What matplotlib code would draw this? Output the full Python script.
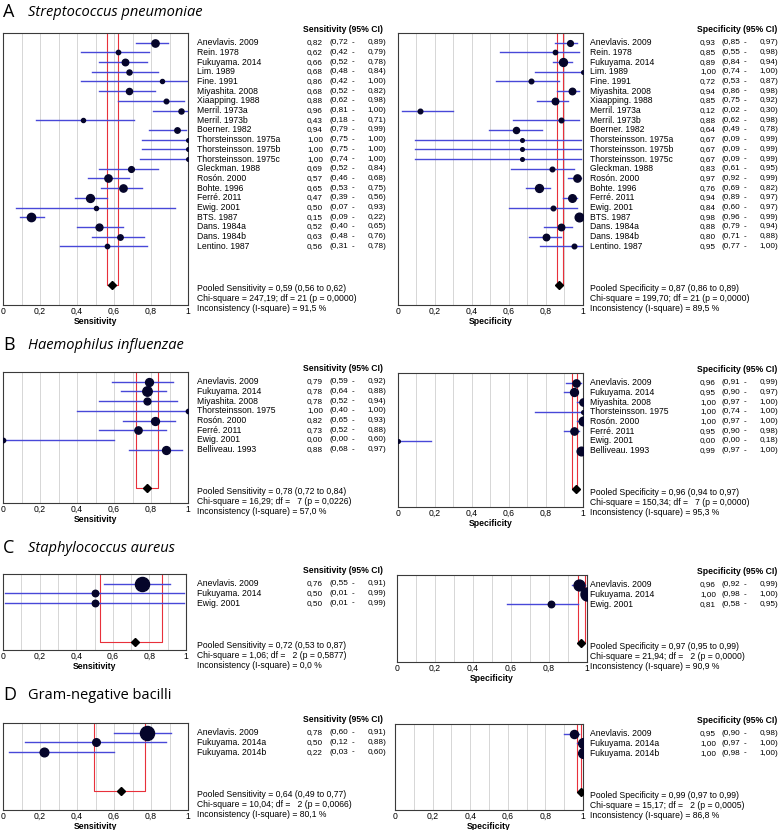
import matplotlib
matplotlib.use("Agg")
import matplotlib.pyplot as plt
import matplotlib.transforms as mtransforms

# ---- data -------------------------------------------------------------
a_names = ["Anevlavis. 2009", "Rein. 1978", "Fukuyama. 2014", "Lim. 1989", "Fine. 1991",
           "Miyashita. 2008", "Xiaapping. 1988", "Merril. 1973a", "Merril. 1973b", "Boerner. 1982",
           "Thorsteinsson. 1975a", "Thorsteinsson. 1975b", "Thorsteinsson. 1975c", "Gleckman. 1988",
           "Rosón. 2000", "Bohte. 1996", "Ferré. 2011", "Ewig. 2001", "BTS. 1987", "Dans. 1984a",
           "Dans. 1984b", "Lentino. 1987"]
a_sens = [0.82, 0.62, 0.66, 0.68, 0.86, 0.68, 0.88, 0.96, 0.43, 0.94, 1.00, 1.00, 1.00, 0.69,
          0.57, 0.65, 0.47, 0.50, 0.15, 0.52, 0.63, 0.56]
a_sens_lo = [0.72, 0.42, 0.52, 0.48, 0.42, 0.52, 0.62, 0.81, 0.18, 0.79, 0.75, 0.75, 0.74, 0.52,
             0.46, 0.53, 0.39, 0.07, 0.09, 0.40, 0.48, 0.31]
a_sens_hi = [0.89, 0.79, 0.78, 0.84, 1.00, 0.82, 0.98, 1.00, 0.71, 0.99, 1.00, 1.00, 1.00, 0.84,
             0.68, 0.75, 0.56, 0.93, 0.22, 0.65, 0.76, 0.78]
a_sens_w = [45, 16, 36, 22, 14, 32, 18, 22, 14, 25, 11, 11, 11, 28, 45, 45, 53, 14, 59, 40, 25, 16]
a_spec = [0.93, 0.85, 0.89, 1.00, 0.72, 0.94, 0.85, 0.12, 0.88, 0.64, 0.67, 0.67, 0.67, 0.83,
          0.97, 0.76, 0.94, 0.84, 0.98, 0.88, 0.80, 0.95]
a_spec_lo = [0.85, 0.55, 0.84, 0.74, 0.53, 0.86, 0.75, 0.02, 0.62, 0.49, 0.09, 0.09, 0.09, 0.61,
             0.92, 0.69, 0.89, 0.60, 0.96, 0.79, 0.71, 0.77]
a_spec_hi = [0.97, 0.98, 0.94, 1.00, 0.87, 0.98, 0.92, 0.30, 0.98, 0.78, 0.99, 0.99, 0.99, 0.95,
             0.99, 0.82, 0.97, 0.97, 0.99, 0.94, 0.88, 1.00]
a_spec_w = [28, 16, 53, 11, 18, 36, 36, 18, 18, 32, 11, 11, 11, 18, 45, 53, 49, 18, 64, 36, 36, 18]
a_sens_pool = (0.59, 0.56, 0.62, 247.19, 21, 0.0000, 91.5)
a_spec_pool = (0.87, 0.86, 0.89, 199.70, 21, 0.0000, 89.5)

b_names = ["Anevlavis. 2009", "Fukuyama. 2014", "Miyashita. 2008", "Thorsteinsson. 1975",
           "Rosón. 2000", "Ferré. 2011", "Ewig. 2001", "Belliveau. 1993"]
b_sens = [0.79, 0.78, 0.78, 1.00, 0.82, 0.73, 0.00, 0.88]
b_sens_lo = [0.59, 0.64, 0.52, 0.40, 0.65, 0.52, 0.00, 0.68]
b_sens_hi = [0.92, 0.88, 0.94, 1.00, 0.93, 0.88, 0.60, 0.97]
b_sens_w = [53, 76, 40, 16, 53, 45, 16, 53]
b_spec = [0.96, 0.95, 1.00, 1.00, 1.00, 0.95, 0.00, 0.99]
b_spec_lo = [0.91, 0.90, 0.97, 0.74, 0.97, 0.90, 0.00, 0.97]
b_spec_hi = [0.99, 0.97, 1.00, 1.00, 1.00, 0.98, 0.18, 1.00]
b_spec_w = [45, 53, 45, 11, 64, 45, 11, 64]
b_sens_pool = (0.78, 0.72, 0.84, 16.29, 7, 0.0226, 57.0)
b_spec_pool = (0.96, 0.94, 0.97, 150.34, 7, 0.0000, 95.3)

c_names = ["Anevlavis. 2009", "Fukuyama. 2014", "Ewig. 2001"]
c_sens = [0.76, 0.50, 0.50]
c_sens_lo = [0.55, 0.01, 0.01]
c_sens_hi = [0.91, 0.99, 0.99]
c_sens_w = [169, 36, 36]
c_spec = [0.96, 1.00, 0.81]
c_spec_lo = [0.92, 0.98, 0.58]
c_spec_hi = [0.99, 1.00, 0.95]
c_spec_w = [100, 144, 36]
c_sens_pool = (0.72, 0.53, 0.87, 1.06, 2, 0.5877, 0.0)
c_spec_pool = (0.97, 0.95, 0.99, 21.94, 2, 0.0000, 90.9)

d_names = ["Anevlavis. 2009", "Fukuyama. 2014a", "Fukuyama. 2014b"]
d_sens = [0.78, 0.50, 0.22]
d_sens_lo = [0.60, 0.12, 0.03]
d_sens_hi = [0.91, 0.88, 0.60]
d_sens_w = [169, 49, 64]
d_spec = [0.95, 1.00, 1.00]
d_spec_lo = [0.90, 0.97, 0.98]
d_spec_hi = [0.98, 1.00, 1.00]
d_spec_w = [56, 81, 81]
d_sens_pool = (0.64, 0.49, 0.77, 10.04, 2, 0.0066, 80.1)
d_spec_pool = (0.99, 0.97, 0.99, 15.17, 2, 0.0005, 86.8)

ticks = [0, 0.2, 0.4, 0.6, 0.8, 1]
tick_labels = ["0", "0,2", "0,4", "0,6", "0,8", "1"]

# ---- drawing ----------------------------------------------------------
W, H = 778, 830
fig = plt.figure(figsize=(W / 100, H / 100), dpi=100)
plt.rcParams["font.family"] = ["Liberation Sans", "DejaVu Sans"]
FS = 6.2
NFS = 5.9  # number columns
ROW = 9.7  # px per row


def c(v):
    return f"{v:.2f}".replace(".", ",")


def forest(box, names, est, lo, hi, w, pool, label, xcols):
    x0, x1, ytop, ybot = box
    ax = fig.add_axes([x0 / W, 1 - ybot / H, (x1 - x0) / W, (ybot - ytop) / H])
    n = len(names)
    prow = n + 3
    ax.set_xlim(0, 1)
    ax.set_ylim(-1 + (ybot - ytop) / ROW, -1)
    for g in [0.1 * k for k in range(1, 10)]:
        ax.axvline(g, color="#d0d0d0", lw=0.6, zorder=0)
    p_est, p_lo, p_hi, chi, df, p, isq = pool
    # pooled CI lines
    ax.plot([p_lo, p_lo, p_hi, p_hi], [-1, prow, prow, -1], color="#e8303a", lw=0.8, zorder=1)
    for i in range(n):
        ax.plot([lo[i], hi[i]], [i, i], color="#4848d8", lw=1.0, zorder=2)
        ax.plot(est[i], i, "o", color="#05052a", ms=0.78 * w[i] ** 0.5, zorder=3)
    ax.plot(p_est, prow, "D", color="black", ms=4.4, zorder=4)
    ax.set_yticks([])
    ax.set_xticks(ticks)
    ax.set_xticklabels(tick_labels, fontsize=FS)
    ax.tick_params(axis="x", length=0, pad=1.5)
    ax.set_xlabel(label, fontsize=FS, fontweight="bold", labelpad=0.5)
    for s in ax.spines.values():
        s.set_color("#3a3a3a")
        s.set_linewidth(0.8)

    tr = mtransforms.blended_transform_factory(fig.transFigure, ax.transData)
    xl, xv, xc, xh = [v / W for v in xcols]
    xd, xe = (xcols[2] + 24) / W, (xcols[2] + 57) / W
    ax.text(xh, -1.4, f"{label} (95% CI)", transform=tr, fontsize=FS, fontweight="bold",
            va="center", ha="left")
    for i in range(n):
        ax.text(xl, i, names[i], transform=tr, fontsize=FS, va="center")
        ax.text(xv, i, c(est[i]), transform=tr, fontsize=NFS, va="center")
        ax.text(xc, i, f"({c(lo[i])}", transform=tr, fontsize=NFS, va="center")
        ax.text(xd, i, "-", transform=tr, fontsize=NFS, va="center", ha="center")
        ax.text(xe, i, f"{c(hi[i])})", transform=tr, fontsize=NFS, va="center", ha="right")
    dfs = f"{df:2d}".replace(" ", "  ")
    lines = [f"Pooled {label} = {c(p_est)} ({c(p_lo)} to {c(p_hi)})",
             f"Chi-square = {chi:.2f}; df = {dfs} (p = {p:.4f})".replace(".", ","),
             f"Inconsistency (I-square) = {isq:.1f} %".replace(".", ",")]
    for k, t in enumerate(lines):
        ax.text(xl, prow + 0.35 + k * 1.02, t, transform=tr, fontsize=FS, va="center")
    return ax


LEFT = (197, 307, 329, 303)
RIGHT = (590, 700, 721, 697)

panels = [
    ("A", "Streptococcus pneumoniae", True, 12,
     (3, 188, 33, 305), (398, 583, 33, 305),
     (a_names, a_sens, a_sens_lo, a_sens_hi, a_sens_w, a_sens_pool),
     (a_names, a_spec, a_spec_lo, a_spec_hi, a_spec_w, a_spec_pool)),
    ("B", "Haemophilus influenzae", True, 345,
     (3, 188, 372, 503), (398, 583, 373, 507),
     (b_names, b_sens, b_sens_lo, b_sens_hi, b_sens_w, b_sens_pool),
     (b_names, b_spec, b_spec_lo, b_spec_hi, b_spec_w, b_spec_pool)),
    ("C", "Staphylococcus aureus", True, 548,
     (3, 186, 574, 650), (397, 587, 575, 662),
     (c_names, c_sens, c_sens_lo, c_sens_hi, c_sens_w, c_sens_pool),
     (c_names, c_spec, c_spec_lo, c_spec_hi, c_spec_w, c_spec_pool)),
    ("D", "Gram-negative bacilli", False, 695,
     (3, 188, 723, 810), (395, 583, 724, 810),
     (d_names, d_sens, d_sens_lo, d_sens_hi, d_sens_w, d_sens_pool),
     (d_names, d_spec, d_spec_lo, d_spec_hi, d_spec_w, d_spec_pool)),
]

for letter, title, italic, ty, lbox, rbox, sdat, pdat in panels:
    fig.text(3 / W, 1 - ty / H, letter, fontsize=13, family=["Open Sans", "DejaVu Sans"],
             va="center", ha="left")
    fig.text(28 / W, 1 - ty / H, title, fontsize=10.5, family=["Open Sans", "DejaVu Sans"],
             style="italic" if italic else "normal", va="center", ha="left")
    forest(lbox, *sdat[:5], sdat[5], "Sensitivity", LEFT)
    forest(rbox, *pdat[:5], pdat[5], "Specificity", RIGHT)

fig.savefig("out.png", dpi=100)
